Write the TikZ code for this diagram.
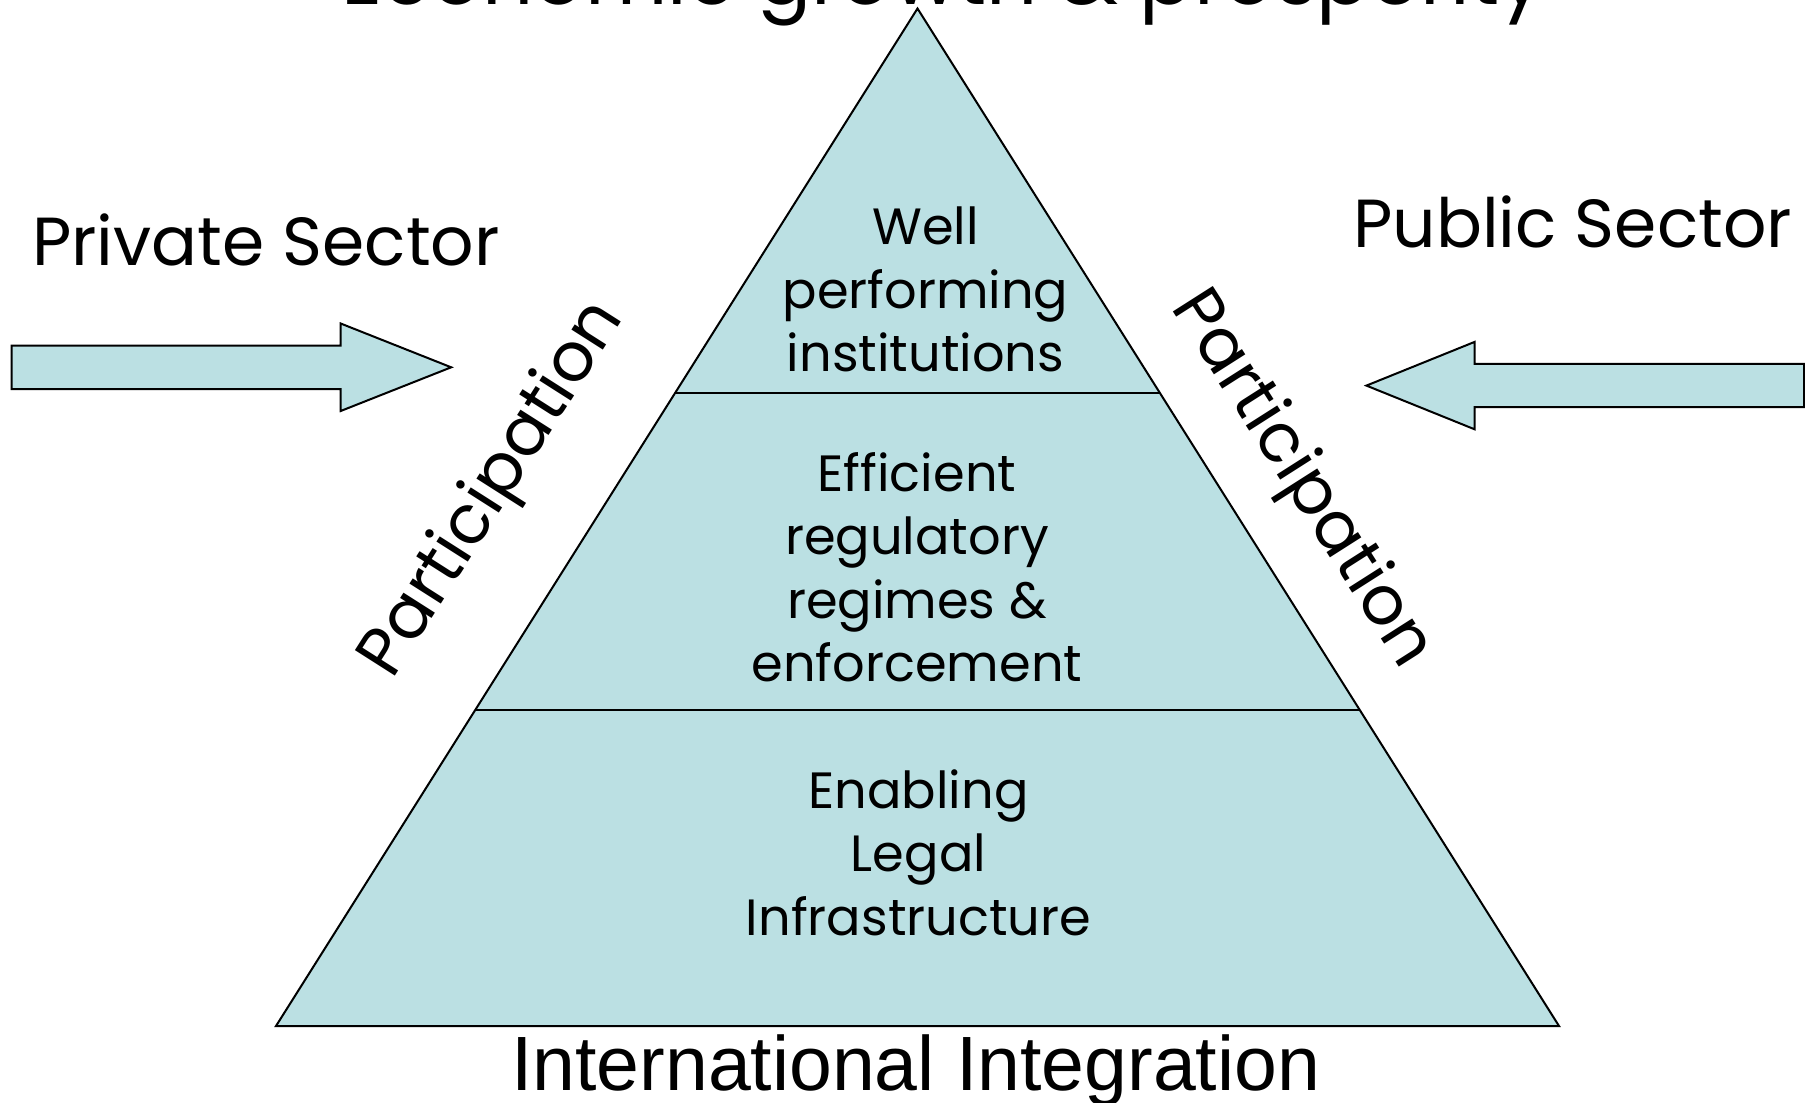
\documentclass[tikz,border=0pt]{standalone}
\usepackage{fontspec}
\usetikzlibrary{calc}
\setmainfont{Poppins}
\newfontfamily\arialf{Liberation Sans}
\definecolor{pyrblue}{HTML}{BBE0E3}
\begin{document}
\begin{tikzpicture}[x=1pt,y=-1pt,
  pyr/.style={fill=pyrblue,draw=black,line width=2pt,line join=miter},
  divline/.style={draw=black,line width=2pt},
  blk/.style={align=center,font=\fontsize{51}{63.5}\selectfont,inner sep=0pt,anchor=base},
  big/.style={font=\fontsize{68}{80}\selectfont,inner sep=0pt},
  part/.style={font=\fontsize{68}{80}\selectfont,inner sep=0pt}]
\useasboundingbox (0,0) rectangle (1805,1103);
\fill[white] (0,0) rectangle (1805,1103);
\clip (0,0) rectangle (1805,1103);
% pyramid
\coordinate (apex) at (917.5,8.5);
\coordinate (bl) at (276,1026);
\coordinate (br) at (1559,1026);
\draw[pyr] (apex) -- (br) -- (bl) -- cycle;
\coordinate (d1l) at ($(apex)!0.3779!(bl)$);
\coordinate (d1r) at ($(apex)!0.3779!(br)$);
\coordinate (d2l) at ($(apex)!0.6894!(bl)$);
\coordinate (d2r) at ($(apex)!0.6894!(br)$);
\draw[divline] (d1l) -- (d1r);
\draw[divline] (d2l) -- (d2r);
% arrows
\draw[pyr] (11.5,345.5) -- (340.7,345.5) -- (340.7,323.5) -- (451.2,367.3)
  -- (340.7,411) -- (340.7,389.2) -- (11.5,389.2) -- cycle;
\draw[pyr] (1366.4,385.6) -- (1474.6,341.9) -- (1474.6,363.8) -- (1804,363.8)
  -- (1804,407.2) -- (1474.6,407.2) -- (1474.6,429.3) -- cycle;
% texts
\node[font=\fontsize{80}{90}\selectfont,inner sep=0pt,anchor=base] (title) at (943,4) {Economic growth \& prosperity};
\node[big,anchor=base west] (priv) at (32,265) {Private Sector};
\node[big,anchor=base west] (pub) at (1353,247) {Public Sector};
\node[blk] (top) at (925.5,371.7) {Well\\performing\\institutions};
\node[blk] (mid) at (917,681.7) {Efficient\\regulatory\\regimes \&\\enforcement};
\node[blk] (bot) at (918.5,935) {Enabling\\Legal\\Infrastructure};
\node[font=\arialf\fontsize{77}{90}\selectfont,inner sep=0pt,anchor=base] (intl) at (915.7,1090) {International Integration};
\node[part,rotate=57.5] (partL) at (494,490) {Participation};
\node[part,rotate=-57.5] (partR) at (1301,480) {Participation};
\end{tikzpicture}
\end{document}
